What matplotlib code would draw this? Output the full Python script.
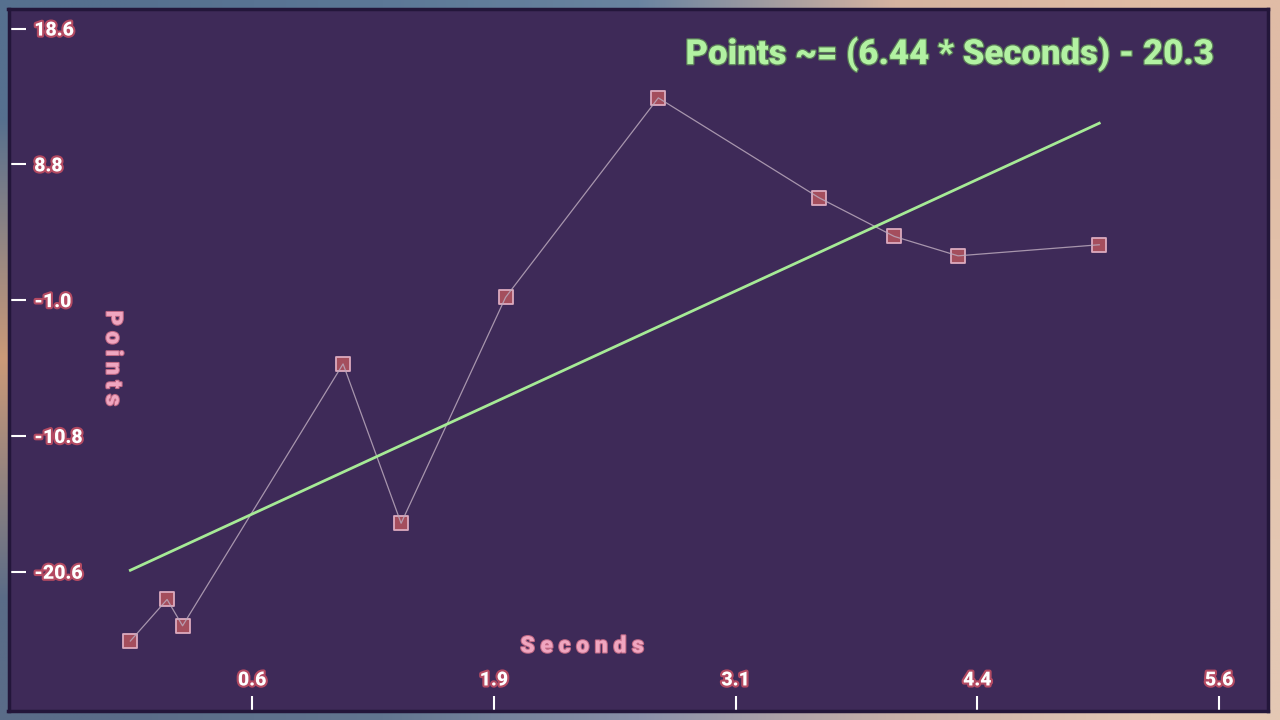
import numpy as np
import matplotlib
matplotlib.use("Agg")
import matplotlib.pyplot as plt
import matplotlib.patheffects as pe
from matplotlib.markers import MarkerStyle

# ---- data ----
seconds = [-0.03, 0.16, 0.24, 1.07, 1.37, 1.91, 2.70, 3.53, 3.92, 4.25, 4.98]
points = [-25.6, -22.6, -24.5, -5.6, -17.1, -0.8, 13.6, 6.4, 3.6, 2.2, 3.0]

slope = 6.44
intercept = -20.3

x_ticks = [0.6, 1.85, 3.1, 4.35, 5.6]
x_tick_labels = ["0.6", "1.9", "3.1", "4.4", "5.6"]
y_ticks = [-20.6, -10.8, -1.0, 8.8, 18.6]
y_tick_labels = ["-20.6", "-10.8", "-1.0", "8.8", "18.6"]

# ---- colours ----
PANEL = "#3e2a58"
BORDER = "#23163a"
GREEN = "#b2f2a2"
FIT_GREEN = "#a6ea96"
PINK = "#f0a6c0"

plt.rcParams["font.family"] = ["Roboto", "DejaVu Sans"]

fig = plt.figure(figsize=(12.8, 7.2), dpi=100)

# blurred wallpaper behind the panel
bg = fig.add_axes([0, 0, 1, 1])
grid_cols = [
    ["#56708f", "#5c7897", "#6a84a0", "#d6b3a0", "#e0bca6"],
    ["#cc9a78", "#8c8ca0", "#9c98a8", "#d8b8a4", "#e4c4ac"],
    ["#5a6c88", "#627690", "#8a90a8", "#c8b0a8", "#e4c8b4"],
]
img = np.array([[matplotlib.colors.to_rgb(c) for c in row] for row in grid_cols])
bg.imshow(img, extent=[0, 1, 0, 1], aspect="auto", interpolation="bilinear")
bg.axis("off")

# main panel
ax = fig.add_axes([8.5 / 1280, 9 / 720, 1259 / 1280, 702.5 / 720])
ax.set_facecolor(PANEL)
for s in ax.spines.values():
    s.set_color(BORDER)
    s.set_linewidth(2.5)

ax.set_xlim(-0.66, 5.85)
ax.set_ylim(-30.65, 20.05)

# data line and markers
ax.plot(seconds, points, color="#baa8bc", lw=0.9, alpha=0.85, zorder=4)
ax.plot(seconds, points, linestyle="none",
        marker=MarkerStyle("s", joinstyle="round"), markersize=9.5,
        markerfacecolor="#a44e5d", markeredgecolor="#dcaabe",
        markeredgewidth=1.3, zorder=3)

# fitted trend
fit_x = np.array([min(seconds), max(seconds)])
ax.plot(fit_x, slope * fit_x + intercept, color=FIT_GREEN, lw=2.0, zorder=5)

# ticks drawn inward with labels inside the panel
ax.set_xticks(x_ticks)
ax.set_xticklabels(x_tick_labels)
ax.set_yticks(y_ticks)
ax.set_yticklabels(y_tick_labels)
ax.tick_params(axis="x", direction="in", length=11, width=1.5, color="white",
               pad=-15.5, labelsize=14, labelcolor="white")
ax.tick_params(axis="y", direction="in", length=12, width=1.5, color="white",
               pad=-18.5, labelsize=14, labelcolor="white")
outline = [pe.withStroke(linewidth=3, foreground="#b44a62")]
for lab in ax.get_xticklabels():
    lab.set_va("bottom")
    lab.set_fontweight("heavy")
    lab.set_path_effects(outline)
for lab in ax.get_yticklabels():
    lab.set_ha("left")
    lab.set_fontweight("heavy")
    lab.set_path_effects(outline)

# axis titles with spaced letters
label_fx = [pe.withStroke(linewidth=1.5, foreground="#c06884")]
ax.text(0.4556, 0.0925, " ".join("Seconds"), transform=ax.transAxes,
        ha="center", va="center", fontsize=16.5, fontweight="heavy",
        color=PINK, path_effects=label_fx)
ax.text(0.083, 0.502, " ".join("Points"), transform=ax.transAxes,
        ha="center", va="center", rotation=270, fontsize=16.5,
        fontweight="heavy", color=PINK, path_effects=label_fx)

# equation in the top right
ax.text(0.958, 0.935, f"Points ~= ({slope} * Seconds) - {abs(intercept)}",
        transform=ax.transAxes, ha="right", va="center", fontsize=25,
        fontweight="heavy", color=GREEN,
        path_effects=[pe.withStroke(linewidth=1.8, foreground="#5a7a58")])

fig.savefig("out.png", dpi=100)
